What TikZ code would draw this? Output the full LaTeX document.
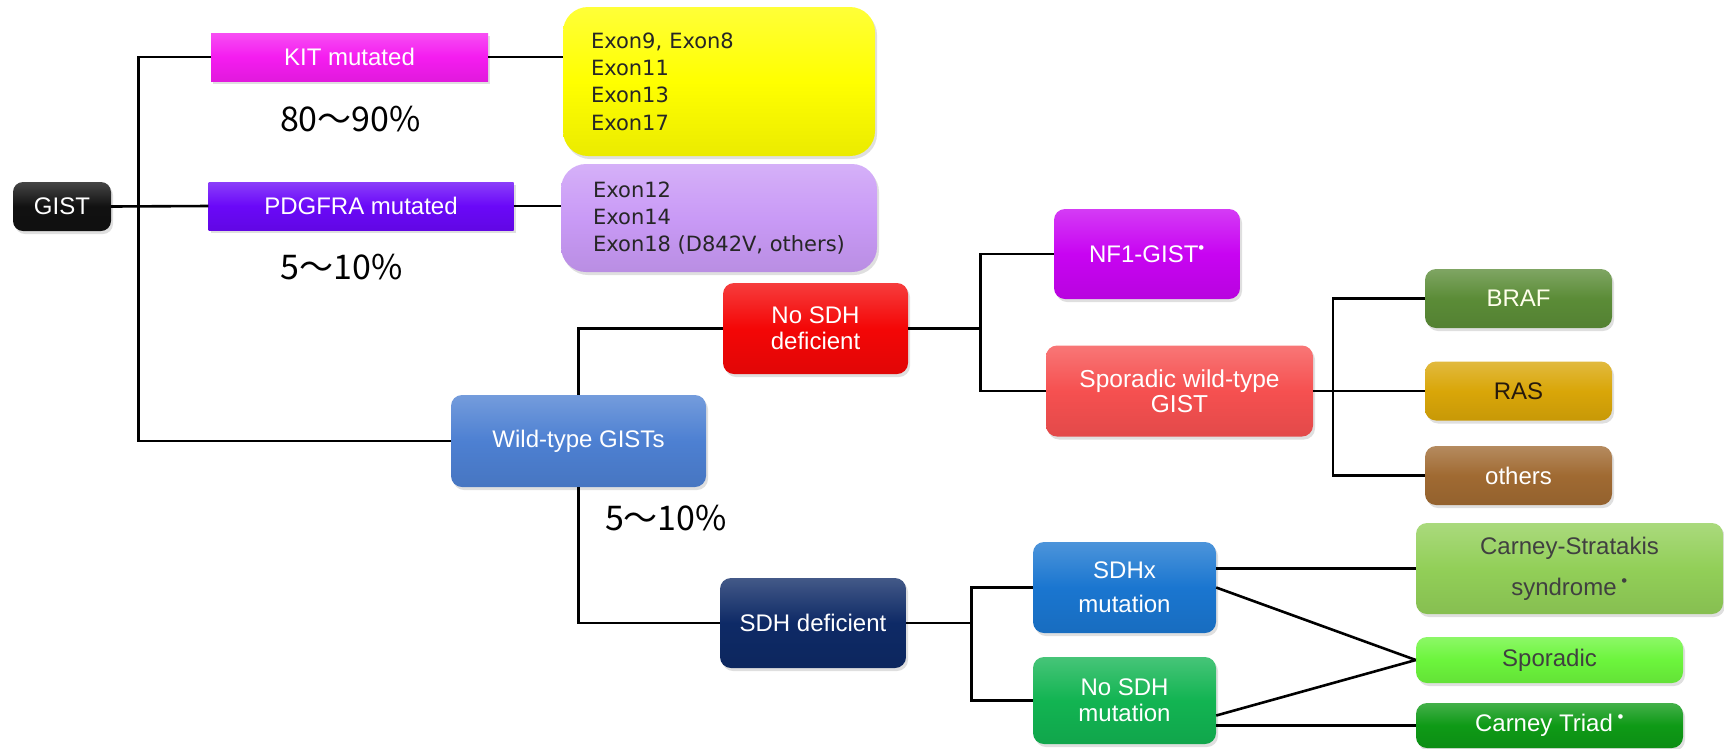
\documentclass[tikz,border=0pt]{standalone}
\usepackage{fontspec}
\usetikzlibrary{shadows}
\newfontfamily\boxfont{Liberation Sans}
\newfontfamily\exonfont{DejaVu Sans}
\newfontfamily\pctfont{Noto Sans CJK JP}
\definecolor{gistc}{HTML}{111111}
\definecolor{kitc}{HTML}{F51CF0}
\definecolor{pdgc}{HTML}{6A08F8}
\definecolor{exkitc}{HTML}{FFFF00}
\definecolor{expdgc}{HTML}{C99AF6}
\definecolor{wildc}{HTML}{4D80D2}
\definecolor{nosdhc}{HTML}{F40606}
\definecolor{nfc}{HTML}{C804F2}
\definecolor{sporwtc}{HTML}{F65050}
\definecolor{brafc}{HTML}{5B8C37}
\definecolor{rasc}{HTML}{D9A608}
\definecolor{othc}{HTML}{A06A32}
\definecolor{sdhdefc}{HTML}{0E2A66}
\definecolor{sdhxc}{HTML}{1A76D0}
\definecolor{nosdhmc}{HTML}{12B452}
\definecolor{csc}{HTML}{92CF58}
\definecolor{sporc}{HTML}{6CF53C}
\definecolor{ctc}{HTML}{0E9A16}
\tikzset{
  gbox/.style={rounded corners=11pt, top color=#1!78!white, bottom color=#1!92!black,
    middle color=#1, text=white, align=center, inner sep=0pt,
    font={\boxfont\fontsize{24}{26}\selectfont},
    drop shadow={opacity=0.25, shadow xshift=2pt, shadow yshift=-3pt}},
  flatbox/.style={gbox=#1, rounded corners=0pt},
  exonbox/.style={gbox=#1, rounded corners=25pt, text=black!85, align=left,
    font={\exonfont\fontsize{21}{27.3}\selectfont}},
  pct/.style={font={\pctfont\fontsize{34}{36}\selectfont}},
  link/.style={line width=2.6pt, black}
}
\begin{document}
\begin{tikzpicture}[x=1pt,y=-1pt]
\useasboundingbox (0,0) rectangle (1724,748);
% first level
\node[gbox=gistc, minimum width=98pt, minimum height=49pt, rounded corners=10pt] (gist) at (62,206.5) {GIST};
\node[flatbox=kitc, minimum width=277pt, minimum height=48pt] (kit) at (349.5,57) {KIT mutated};
\node[flatbox=pdgc, minimum width=305pt, minimum height=48pt] (pdgfra) at (361,206) {PDGFRA mutated};
\node[gbox=wildc, minimum width=255pt, minimum height=92pt] (wild) at (578.5,441) {Wild-type GISTs};
% exons
\node[exonbox=exkitc, minimum width=312pt, minimum height=149pt, text width=256pt] (exkit) at (719,81.5)
  {Exon9, Exon8\\Exon11\\Exon13\\Exon17};
\node[exonbox=expdgc, minimum width=316pt, minimum height=108pt] (expdg) at (719,218)
  {Exon12\\Exon14\\Exon18 (D842V, others)};
% percentages
\node[pct] (p1) at (350.5,119) {80～90\%};
\node[pct] (p2) at (341.5,267) {5～10\%};
\node[pct] (p3) at (666,518) {5～10\%};
% wild-type branches
\node[gbox=nosdhc, minimum width=185pt, minimum height=91pt] (nosdh) at (815.5,328.5) {No SDH\\deficient};
\node[gbox=sdhdefc, minimum width=186pt, minimum height=90pt] (sdhdef) at (813,623) {SDH deficient};
\node[gbox=nfc, minimum width=186pt, minimum height=90pt] (nf1) at (1147,254) {NF1-GIST\textsuperscript{•}};
\node[gbox=sporwtc, minimum width=267pt, minimum height=91pt, font={\boxfont\fontsize{24.5}{25}\selectfont}] (sporwt) at (1179.5,391) {Sporadic wild-type\\GIST};
\node[gbox=brafc, minimum width=187pt, minimum height=59pt, text=white!92!yellow] (braf) at (1518.5,298.5) {BRAF};
\node[gbox=rasc, minimum width=187pt, minimum height=59pt, text=black!80!brown] (ras) at (1518.5,391) {RAS};
\node[gbox=othc, minimum width=187pt, minimum height=59pt] (others) at (1518.5,475.5) {others};
\node[gbox=sdhxc, minimum width=183pt, minimum height=91pt, font={\boxfont\fontsize{24}{34}\selectfont}] (sdhx) at (1124.5,587.5) {SDHx\\mutation};
\node[gbox=nosdhmc, minimum width=183pt, minimum height=87pt] (nosdhm) at (1124.5,700.5) {No SDH\\mutation};
\node[gbox=csc, minimum width=307pt, minimum height=91pt, text=black!75, font={\boxfont\fontsize{24}{41}\selectfont}] (cs) at (1569.5,568.5) {Carney-Stratakis\\syndrome\textsuperscript{ •}};
\node[gbox=sporc, minimum width=267pt, minimum height=46pt, text=black!75] (spor) at (1549.5,660) {Sporadic};
\node[gbox=ctc, minimum width=267pt, minimum height=45pt] (ct) at (1549.5,725.5) {Carney Triad\textsuperscript{ •}};
% connectors
\draw[link] (gist.east) -- (pdgfra.west);
\draw[link] (kit.west) -- ++(-72.5,0) |- (wild.west);
\draw[link] (kit.east) -- (kit.east -| exkit.west);
\draw[link] (pdgfra.east) -- (pdgfra.east -| expdg.west);
\draw[link] (wild.north) |- (nosdh.west);
\draw[link] (wild.south) |- (sdhdef.west);
\draw[link] (nosdh.east) -- ++(72,0) coordinate (s1);
\draw[link] (nf1.west) -| (s1) |- (sporwt.west);
\draw[link] (sporwt.east) -- (ras.west);
\draw[link] (braf.west) -- ++(-92,0) |- (others.west);
\draw[link] (sdhdef.east) -- ++(65,0) coordinate (s2);
\draw[link] (sdhx.west) -| (s2) |- (nosdhm.west);
\draw[link] (cs.west -| sdhx.east) -- (cs.west);
\draw[link] (sdhx.east) -- (spor.west);
\draw[link] ([yshift=-15pt]nosdhm.east) -- (spor.west);
\draw[link] (ct.west -| nosdhm.east) -- (ct.west);
\end{tikzpicture}
\end{document}
